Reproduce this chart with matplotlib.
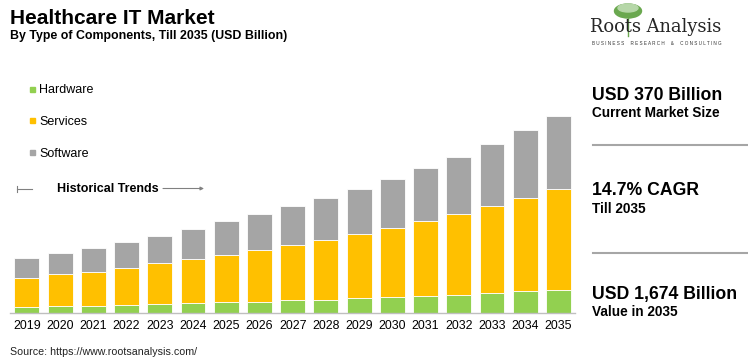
import numpy as np
import matplotlib.pyplot as plt
from matplotlib.patches import Rectangle, Ellipse
from matplotlib.lines import Line2D

plt.rcParams['font.family'] = ['Liberation Sans', 'DejaVu Sans']

# data (USD billion)
years = [str(y) for y in range(2019, 2036)]
hardware = [54, 59, 63, 71, 74, 85, 93, 97, 108, 114, 127, 136, 144, 156, 173, 184, 193]
services = [246, 275, 289, 314, 348, 371, 403, 438, 473, 510, 547, 590, 641, 685, 736, 793, 864]
software = [164, 172, 198, 215, 229, 255, 283, 303, 325, 351, 379, 413, 444, 484, 527, 575, 617]
series_names = ['Hardware', 'Services', 'Software']
series_colors = ['#92D050', '#FFC000', '#A5A5A5']

W, H = 748, 364
fig = plt.figure(figsize=(W / 100, H / 100), dpi=100)


def fx(px):
    return px / W


def fy(py):
    return 1 - py / H


# bar axes: baseline at y=313px, 197px per 1674 bn
ax = fig.add_axes([fx(10), fy(313), fx(565), (313 - 60) / H])
x = np.arange(len(years))
bottom = np.zeros(len(years))
for vals, name, col in zip([hardware, services, software], series_names, series_colors):
    ax.bar(x, vals, width=0.75, bottom=bottom, color=col, edgecolor='white',
           linewidth=0.6, label=name)
    bottom += np.array(vals)

ax.set_xlim(-0.51, 16.5)
ax.set_ylim(0, 253 * 1674 / 197)
ax.set_xticks(x)
ax.set_xticklabels(years, fontsize=8.9, color='black')
ax.tick_params(axis='x', length=0, pad=5)
ax.set_yticks([])
for s in ['top', 'right', 'left']:
    ax.spines[s].set_visible(False)
ax.spines['bottom'].set_color('#BFBFBF')
ax.spines['bottom'].set_linewidth(1)

# legend
for i, (name, col) in enumerate(zip(series_names, series_colors)):
    cy = 89 + i * 31.8
    fig.add_artist(Rectangle((fx(30), fy(cy + 2.5)), fx(5), 5 / H, color=col,
                             transform=fig.transFigure))
    fig.text(fx(39), fy(cy + 4), name, fontsize=9, va='baseline', ha='left')

# historical trends marker
gray = '#808080'
fig.add_artist(Line2D([fx(17), fx(32)], [fy(188.5)] * 2, color=gray, lw=0.8))
fig.add_artist(Line2D([fx(17), fx(17)], [fy(185.5), fy(191.5)], color=gray, lw=0.8))
fig.text(fx(57), fy(192.5), 'Historical Trends', fontsize=9, fontweight='bold',
         va='baseline', ha='left')
ax.annotate('', xy=(fx(204), fy(188.5)), xytext=(fx(163), fy(188.5)),
            xycoords='figure fraction', textcoords='figure fraction',
            arrowprops=dict(arrowstyle='-|>', color=gray, lw=0.8,
                            mutation_scale=5, shrinkA=0, shrinkB=0))

# titles
fig.text(fx(10), fy(24.5), 'Healthcare IT Market', fontsize=15, fontweight='bold',
         va='baseline')
fig.text(fx(10), fy(38.5), 'By Type of Components, Till 2035 (USD Billion)',
         fontsize=8.9, fontweight='bold', va='baseline')
fig.text(fx(10), fy(355), 'Source: https://www.rootsanalysis.com/', fontsize=7.7,
         va='baseline', color='#222222')

# right panel
kpis = [('USD 370 Billion', 'Current Market Size', 100, 117),
        ('14.7% CAGR', 'Till 2035', 195, 213),
        ('USD 1,674 Billion', 'Value in 2035', 298.5, 316.5)]
for big, small, yb, ys in kpis:
    fig.text(fx(592), fy(yb), big, fontsize=12.7, fontweight='bold', va='baseline')
    fig.text(fx(592), fy(ys), small, fontsize=9.8, fontweight='bold', va='baseline')
for yl in [145, 252.5]:
    fig.add_artist(Line2D([fx(593), fx(748)], [fy(yl)] * 2, color='#A6A6A6', lw=1.5))

# logo
fig.add_artist(Ellipse((fx(628), fy(11)), fx(27), 14 / H, color='#6aa84f',
                       transform=fig.transFigure))
fig.add_artist(Ellipse((fx(628), fy(8)), fx(20), 8 / H, color='#b6d7a8',
                       transform=fig.transFigure))
fig.add_artist(Line2D([fx(628), fx(628)], [fy(17), fy(36)], color='#6aa84f', lw=1))
fig.text(fx(590), fy(31.5), 'Roots Analysis', fontsize=12.9, family='DejaVu Serif',
         color='#262626', va='baseline')
fig.text(fx(656.5), fy(43.5), '  '.join('BUSINESS RESEARCH & CONSULTING'.split(' ')).replace('', ' ').strip(),
         fontsize=3.3, color='#333333', va='center', ha='center')

fig.savefig('out.png', dpi=100)
